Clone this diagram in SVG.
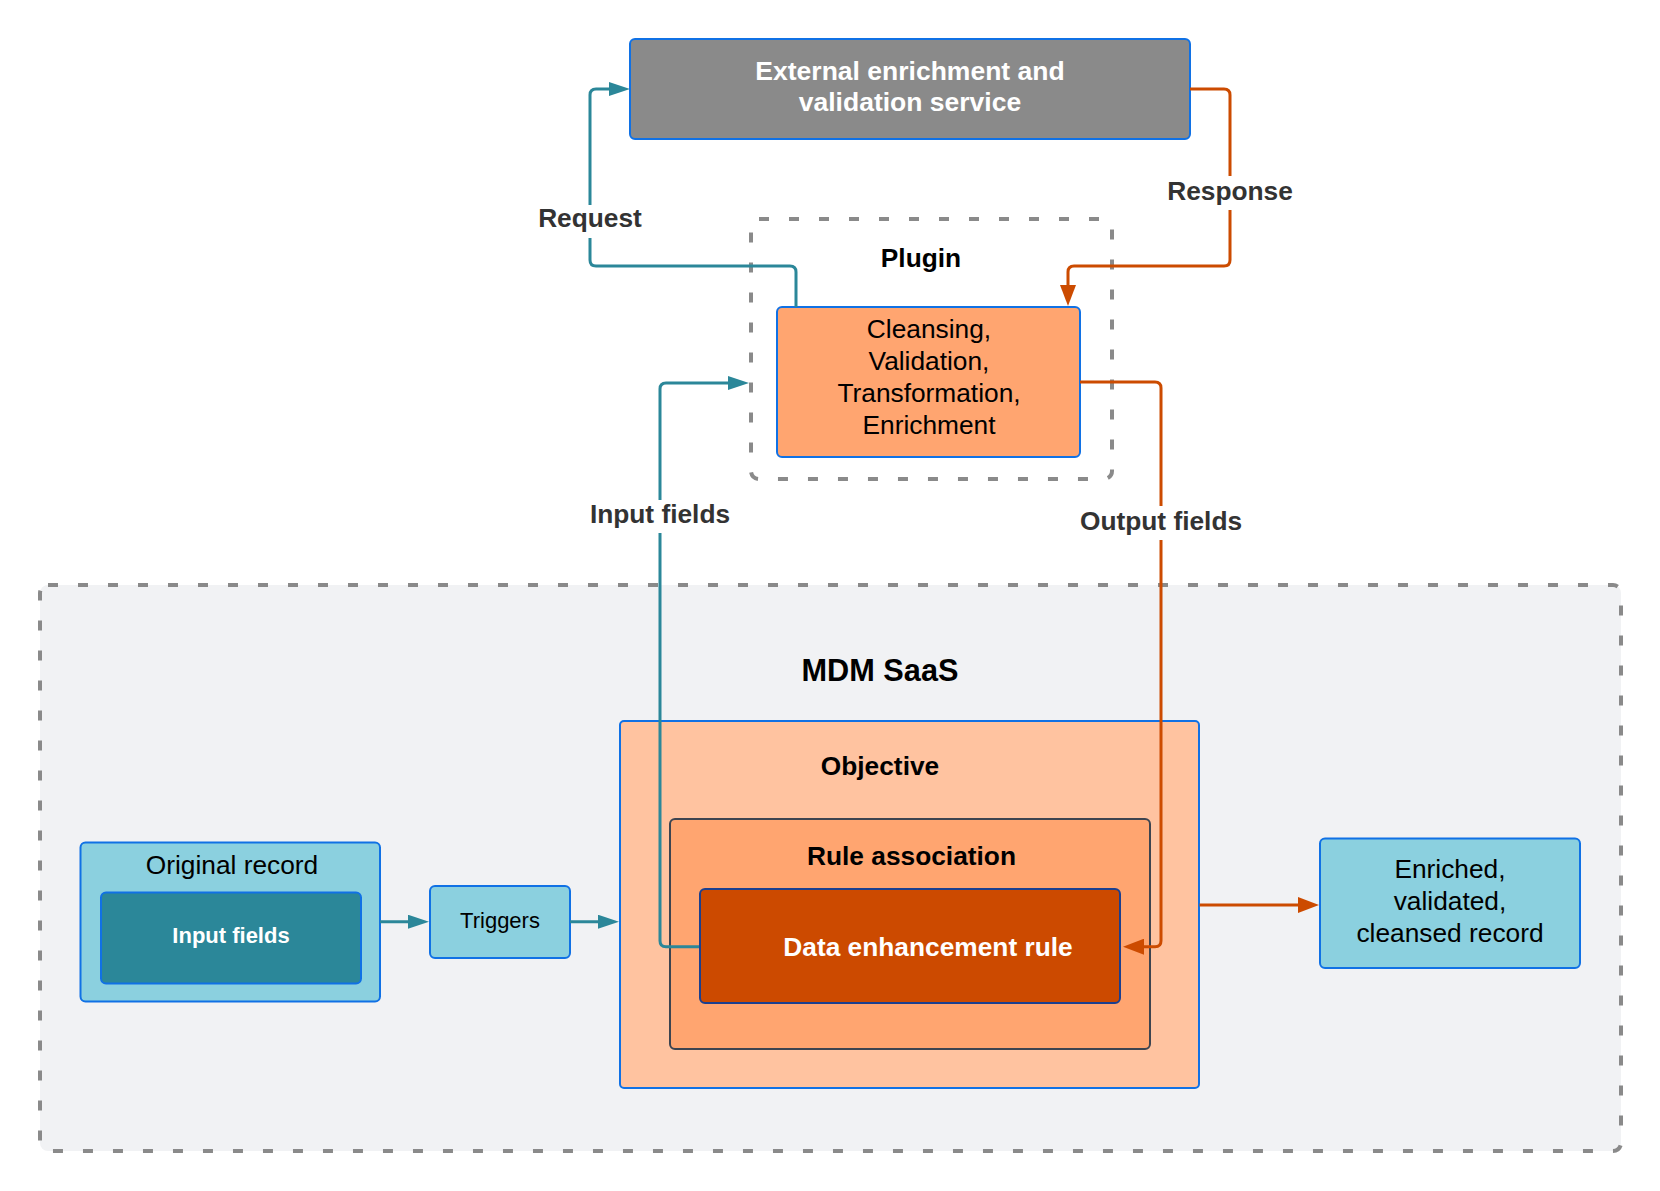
<svg xmlns="http://www.w3.org/2000/svg" width="1660" height="1191" viewBox="0 0 1660 1191">
  <defs>
    <marker id="arrTeal" markerUnits="userSpaceOnUse" markerWidth="21" markerHeight="14" refX="11" refY="7" orient="auto">
      <path d="M0,0 L21,7 L0,14 z" fill="#2b8799"/>
    </marker>
    <marker id="arrOrange" markerUnits="userSpaceOnUse" markerWidth="21" markerHeight="16" refX="11" refY="8" orient="auto">
      <path d="M0,0 L21,8 L0,16 z" fill="#cc4b00"/>
    </marker>
    <style>
      text { font-family: "Liberation Sans", Arial, sans-serif; }
      .t26 { font-size: 26.3px; fill: #000; }
      .b26 { font-size: 26.3px; font-weight: bold; fill: #000; }
      .lbl { font-size: 26.3px; font-weight: bold; fill: #333333; }
      .wb { font-weight: bold; fill: #ffffff; }
      .dash { fill: none; stroke: #8a8a8a; stroke-width: 4; stroke-dasharray: 10 20; }
      .blue { stroke: #1071e5; stroke-width: 2; }
      .teal { fill: none; stroke: #2b8799; stroke-width: 3; }
      .orng { fill: none; stroke: #cc4b00; stroke-width: 3; }
    </style>
  </defs>
  <rect width="1660" height="1191" fill="#ffffff"/>

  <g id="mdm-saas">
    <rect x="40" y="585" width="1581" height="566" rx="8" fill="#f1f2f4"/>
    <rect class="dash" x="40" y="585" width="1581" height="566" rx="8"/>
    <text class="b26" x="880" y="681" text-anchor="middle" style="font-size:30.7px">MDM SaaS</text>
  </g>

  <g id="plugin">
    <rect class="dash" x="751" y="219" width="361" height="260" rx="8"/>
    <text class="b26" x="921" y="266.5" text-anchor="middle">Plugin</text>
  </g>

  <g id="external-service">
    <rect class="blue" x="630" y="39" width="560" height="100" rx="5" fill="#8a8a8a"/>
    <text class="wb" x="910" y="79.5" text-anchor="middle" font-size="26.5">External enrichment and</text>
    <text class="wb" x="910" y="110.8" text-anchor="middle" font-size="26.5">validation service</text>
  </g>

  <g id="cleansing">
    <rect class="blue" x="777" y="307" width="303" height="150" rx="5" fill="#ffa570"/>
    <text class="t26" x="929" y="338" text-anchor="middle">Cleansing,</text>
    <text class="t26" x="929" y="370" text-anchor="middle">Validation,</text>
    <text class="t26" x="929" y="402" text-anchor="middle">Transformation,</text>
    <text class="t26" x="929" y="434" text-anchor="middle">Enrichment</text>
  </g>

  <g id="objective">
    <rect class="blue" x="620" y="721" width="579" height="367" rx="4" fill="#ffc3a0"/>
    <text class="b26" x="880" y="775" text-anchor="middle">Objective</text>
  </g>

  <g id="rule-association">
    <rect x="670" y="819" width="480" height="230" rx="5" fill="#ffa570" stroke="#3d4450" stroke-width="2"/>
    <text class="b26" x="911.5" y="865" text-anchor="middle">Rule association</text>
  </g>

  <g id="original-record">
    <rect class="blue" x="80.5" y="842.5" width="299.5" height="159" rx="5" fill="#8bd0df"/>
    <text class="t26" x="232" y="874" text-anchor="middle">Original record</text>
  </g>

  <g id="input-fields">
    <rect class="blue" x="101" y="892.5" width="260" height="91" rx="5" fill="#2b8799"/>
    <text class="wb" x="231" y="943" text-anchor="middle" font-size="22">Input fields</text>
  </g>

  <g id="triggers">
    <rect class="blue" x="430" y="886" width="140" height="72" rx="5" fill="#8bd0df"/>
    <text x="500" y="928" text-anchor="middle" font-size="22" fill="#000">Triggers</text>
  </g>

  <g id="enriched-record">
    <rect class="blue" x="1320" y="838.5" width="260" height="129.5" rx="5" fill="#8bd0df"/>
    <text class="t26" x="1450" y="877.7" text-anchor="middle">Enriched,</text>
    <text class="t26" x="1450" y="910" text-anchor="middle">validated,</text>
    <text class="t26" x="1450" y="941.7" text-anchor="middle">cleansed record</text>
  </g>

  <g id="connectors">
    <path class="teal" d="M796,307 V272 Q796,266 790,266 H596 Q590,266 590,260 V95 Q590,89 596,89 H620" marker-end="url(#arrTeal)"/>
    <path class="orng" d="M1190,89 H1224 Q1230,89 1230,95 V260 Q1230,266 1224,266 H1074 Q1068,266 1068,272 V296" marker-end="url(#arrOrange)"/>
    <path class="teal" d="M700,946.7 H666 Q660,946.7 660,940.7 V389 Q660,383 666,383 H739" marker-end="url(#arrTeal)"/>
    <path class="orng" d="M1080,382 H1155 Q1161,382 1161,388 V940.7 Q1161,946.7 1155,946.7 H1133" marker-end="url(#arrOrange)"/>
    <path class="teal" d="M380,921.7 H419" marker-end="url(#arrTeal)"/>
    <path class="teal" d="M570,921.7 H609" marker-end="url(#arrTeal)"/>
    <path class="orng" d="M1199.5,905 H1309" marker-end="url(#arrOrange)"/>

    <rect x="536" y="205" width="108" height="33" fill="#ffffff"/>
    <text class="lbl" x="590" y="227.3" text-anchor="middle">Request</text>
    <rect x="1167" y="176" width="126" height="34" fill="#ffffff"/>
    <text class="lbl" x="1230" y="200" text-anchor="middle">Response</text>
    <rect x="585" y="500" width="150" height="33" fill="#ffffff"/>
    <text class="lbl" x="660" y="522.7" text-anchor="middle">Input fields</text>
    <rect x="1077" y="506" width="168" height="34" fill="#ffffff"/>
    <text class="lbl" x="1161" y="530" text-anchor="middle">Output fields</text>
  </g>

  <g id="data-enhancement-rule">
    <rect x="700" y="889" width="420" height="114" rx="5" fill="#cc4a00" stroke="#1b3f8f" stroke-width="2"/>
    <text class="wb" x="928" y="955.5" text-anchor="middle" font-size="26.3">Data enhancement rule</text>
  </g>
</svg>
